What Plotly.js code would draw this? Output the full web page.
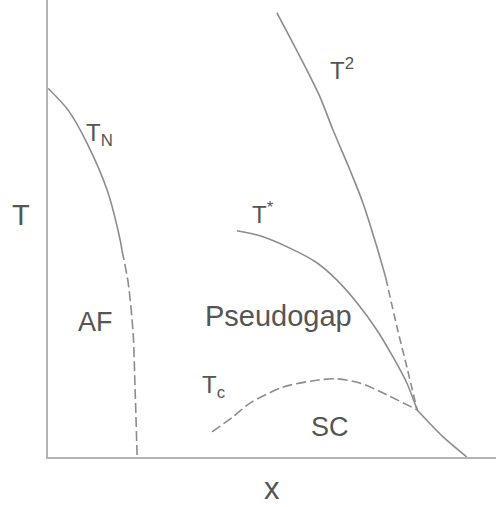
<!DOCTYPE html>
<html>
<head>
<meta charset="utf-8">
<script src="https://cdn.plot.ly/plotly-3.0.1.min.js"></script>
<style>
  html, body { margin: 0; padding: 0; background: #fff; }
  #chart { width: 496px; height: 507px; }
</style>
</head>
<body>
<div id="chart"></div>
<script>
// Schematic phase diagram: doping x (0-100) vs temperature T (0-100)

// Neel temperature T_N: solid part, then dashed down to the axis
const tnSolidX = [0, 4.5, 8.7, 13.2, 16.1, 16.5];
const tnSolidT = [80.7, 75.9, 68.7, 58.4, 47.5, 45.3];
const tnDashX = [16.5, 17.9, 19.0, 19.4, 19.9];
const tnDashT = [45.3, 38.1, 27.1, 16.2, 0];

// Upper crossover line (T^2)
const upSolidX = [51.1, 56.3, 60.7, 63.6, 67.4, 70.3, 73.4, 75.4];
const upSolidT = [97.2, 87.5, 78.8, 71.6, 62.8, 55.6, 46.0, 39.2];
const upDashX = [75.4, 77.9, 80.1, 82.4];
const upDashT = [39.2, 28.4, 19.7, 10.3];

// Pseudogap line T*
const tStarX = [42.2, 47.3, 54.0, 60.0, 64.5, 69.0, 73.4, 77.0, 80.1, 82.4];
const tStarT = [49.5, 48.4, 45.7, 42.5, 38.7, 33.7, 27.8, 21.9, 16.2, 10.3];

// Superconducting dome T_c: dashed underdoped side, solid overdoped side
const tcDashX = [36.6, 41.3, 45.1, 52.5, 60.0, 64.5, 69.6, 74.8, 82.4];
const tcDashT = [5.5, 8.8, 11.8, 15.3, 16.8, 17.1, 16.2, 14.0, 10.3];
const tcSolidX = [82.4, 88.2, 93.5];
const tcSolidT = [10.3, 4.4, 0];

const lineColor = '#8c8c8c';
const textColor = '#555555';
const font = 'Liberation Sans, Arial, sans-serif';

function curve(x, y, dash) {
  return {
    x: x, y: y, type: 'scatter', mode: 'lines',
    line: { color: lineColor, width: 1.6, shape: 'spline', smoothing: 0.8, dash: dash },
    hoverinfo: 'skip', showlegend: false
  };
}

const traces = [
  curve(tnSolidX, tnSolidT, 'solid'),
  curve(tnDashX, tnDashT, '10px,4px'),
  curve(upSolidX, upSolidT, 'solid'),
  curve(upDashX, upDashT, '8px,4px'),
  curve(tStarX, tStarT, 'solid'),
  curve(tcDashX, tcDashT, '10px,4px'),
  curve(tcSolidX, tcSolidT, 'solid')
];

function label(x, y, text, size) {
  return {
    x: x, y: y, xref: 'x', yref: 'y', text: text, showarrow: false,
    font: { family: font, size: size, color: textColor },
    xanchor: 'center', yanchor: 'middle'
  };
}

const annotations = [
  label(11.5, 70.5, 'T<sub>N</sub>', 24),
  label(10.6, 29.5, 'AF', 27),
  label(51.5, 30.9, 'Pseudogap', 29),
  label(37.0, 15.5, 'T<sub>c</sub>', 24),
  label(62.9, 6.5, 'SC', 27),
  label(48.0, 53.5, 'T<sup>*</sup>', 24),
  label(65.7, 85, 'T<sup>2</sup>', 24),
  {
    x: 0.5, y: -0.07, xref: 'paper', yref: 'paper', text: 'x', showarrow: false,
    font: { family: font, size: 31, color: textColor }, xanchor: 'center', yanchor: 'middle'
  },
  {
    x: -0.06, y: 0.53, xref: 'paper', yref: 'paper', text: 'T', showarrow: false,
    font: { family: font, size: 29, color: textColor }, xanchor: 'center', yanchor: 'middle'
  }
];

const layout = {
  width: 496, height: 507,
  margin: { l: 48, r: 0, t: 0, b: 50 },
  paper_bgcolor: '#ffffff', plot_bgcolor: '#ffffff',
  showlegend: false,
  xaxis: {
    range: [0, 100], showgrid: false, zeroline: false, showticklabels: false, ticks: '',
    showline: true, linecolor: '#b4b4b4', linewidth: 2, fixedrange: true
  },
  yaxis: {
    range: [0, 100], showgrid: false, zeroline: false, showticklabels: false, ticks: '',
    showline: true, linecolor: '#b4b4b4', linewidth: 2, fixedrange: true
  },
  annotations: annotations
};

Plotly.newPlot('chart', traces, layout, { staticPlot: true, displayModeBar: false });
</script>
</body>
</html>
